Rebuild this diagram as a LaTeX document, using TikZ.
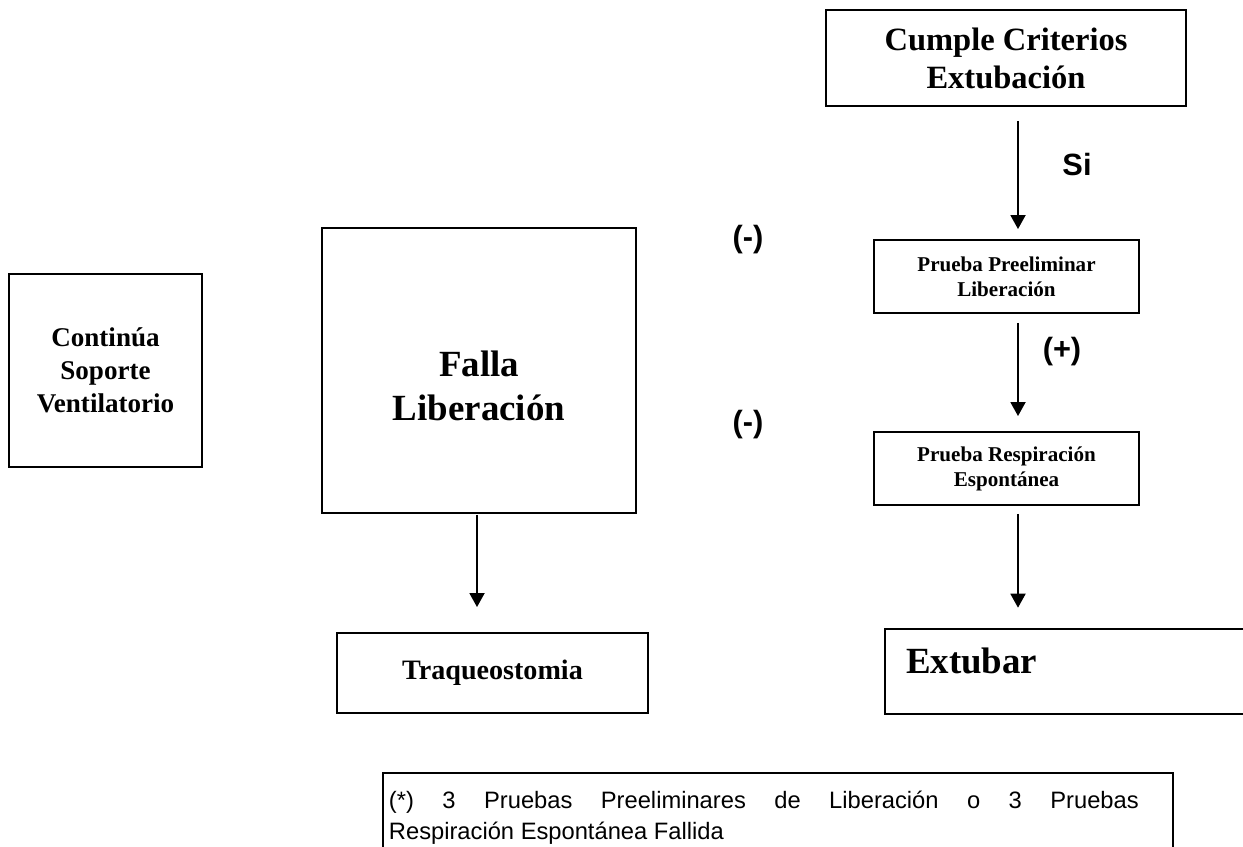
\documentclass[tikz,border=0pt]{standalone}
\usepackage{fontspec}
\setmainfont{Liberation Serif}
\newfontfamily\arialfont{Liberation Sans}
\usetikzlibrary{arrows.meta}
\newcommand\nodecce{Cumple Criterios\\Extubación}
\newcommand\nodeppl{Prueba Preeliminar\\Liberación}
\newcommand\nodepre{Prueba Respiración\\Espontánea}
\newcommand\nodeext{Extubar}
\newcommand\nodecsv{Continúa\\Soporte\\Ventilatorio}
\newcommand\nodefl{Falla\\Liberación}
\newcommand\nodetq{Traqueostomia}
\newcommand\nodenota{\makebox[15cm][s]{\spaceskip=0pt (*) 3 Pruebas Preeliminares de Liberación o 3 Pruebas}\\Respiración Espontánea Fallida}
\tikzstyle{mybox} = [rectangle, draw, align=center, inner sep=0pt]
\tikzstyle{lbl} = [font=\arialfont\bfseries\fontsize{17.5}{20}\selectfont]
\tikzset{>={Triangle[width=0.3cm, length=0.28cm]}, every picture/.style={line width=1.1pt}}

\begin{document}
\begin{tikzpicture}[x=0.02cm, y=-0.02cm]
\useasboundingbox (0,0) rectangle (1243,847);
\fill[white] (0,0) rectangle (1243,847);
\node[mybox, minimum width=7.2cm, minimum height=1.92cm, font=\bfseries\fontsize{18.5}{21.6}\selectfont] (cce) at (1006,58) {\nodecce};
\node[mybox, minimum width=5.3cm, minimum height=1.46cm, font=\bfseries\fontsize{12}{14.2}\selectfont] (ppl) at (1006.5,276.5) {\nodeppl};
\node[mybox, minimum width=5.3cm, minimum height=1.46cm, font=\bfseries\fontsize{12}{14.2}\selectfont] (pre) at (1006.5,468.5) {\nodepre};
\node[mybox, line width=1.5pt, minimum width=7.6cm, minimum height=1.7cm, text width=6.76cm, align=left, inner xsep=0.42cm, text depth=0.44cm, font=\bfseries\fontsize{21}{24}\selectfont] (ext) at (1075,671.5) {\nodeext};
\node[mybox, minimum width=3.86cm, minimum height=3.86cm, font=\bfseries\fontsize{15.4}{18.8}\selectfont] (csv) at (105.5,370.5) {\nodecsv};
\node[mybox, minimum width=6.28cm, minimum height=5.7cm, text width=6.28cm, text height=0.6cm, text depth=0.34cm, font=\bfseries\fontsize{21}{24.5}\selectfont] (fl) at (479,370.5) {\nodefl};
\node[mybox, minimum width=6.22cm, minimum height=1.6cm, font=\bfseries\fontsize{16}{19}\selectfont] (tq) at (492.5,673) {\nodetq};
\node[draw, anchor=north west, inner xsep=0.12cm, inner ysep=0.36cm, text width=15.56cm, align=justify, font=\arialfont\fontsize{13.5}{17.6}\selectfont] (nota) at (382,772) {\nodenota};
\node[lbl] (si) at (1077,165) {Si};
\node[lbl] (mas) at (1062,352) {(+)};
\node[lbl] (menos1) at (748,240) {(-)};
\node[lbl] (menos2) at (748,425) {(-)};
\draw [->, shorten <=0.28cm, shorten >=0.2cm] ([xshift=0.24cm]cce.south) -- ([xshift=0.24cm]cce.south |- ppl.north);
\draw [->, shorten <=0.18cm, shorten >=0.3cm] ([xshift=0.23cm]ppl.south) -- ([xshift=0.23cm]pre.north);
\draw [->, shorten <=0.16cm, shorten >=0.4cm] ([xshift=0.23cm]pre.south) -- ([xshift=0.23cm]pre.south |- ext.north);
\draw [->, shorten <=0.02cm, shorten >=0.5cm] ([xshift=-0.04cm]fl.south) -- ([xshift=-0.04cm]fl.south |- tq.north);
\end{tikzpicture}
\end{document}
